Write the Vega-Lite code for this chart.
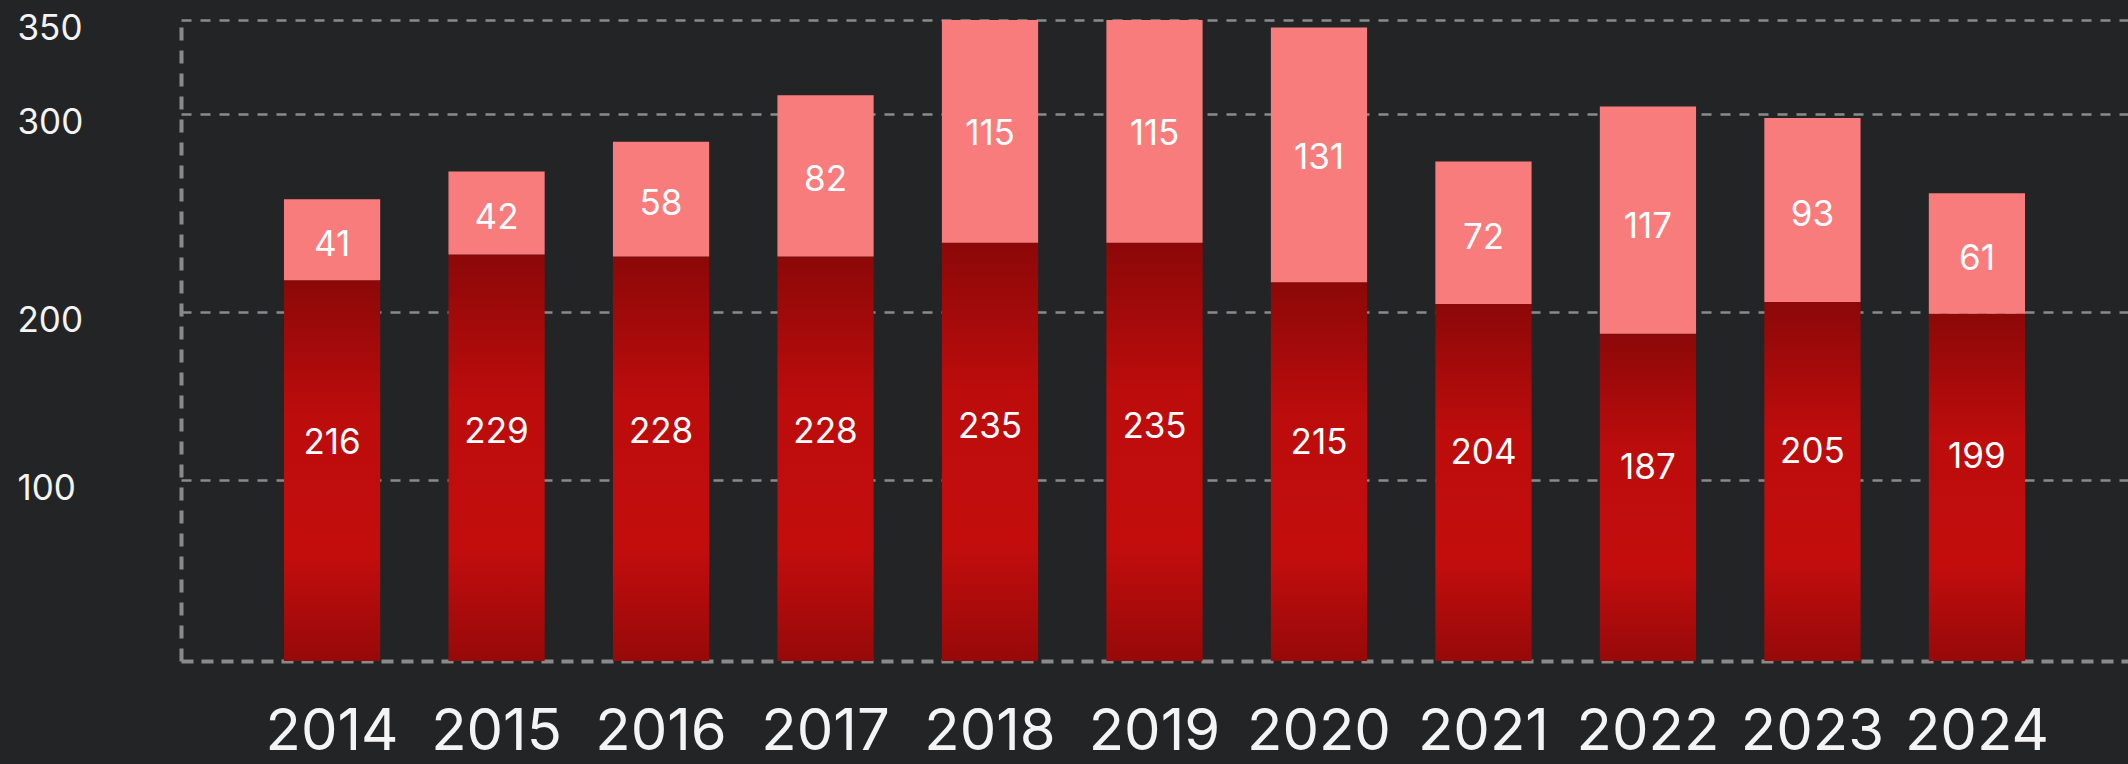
{
  "$schema": "https://vega.github.io/schema/vega-lite/v6.json",
  "autosize": {"type": "none"},
  "padding": {"left": 181, "top": 20, "right": 0, "bottom": 103},
  "width": 1947,
  "height": 641,
  "background": "#232426",
  "config": {
    "font": "Inter",
    "view": {"stroke": null},
    "axis": {"labelFont": "Inter", "labelColor": "#f4f4f4"}
  },
  "data": {
    "values": [
      {"year": "2014", "segment": "lower", "value": 216},
      {"year": "2014", "segment": "upper", "value": 41},
      {"year": "2015", "segment": "lower", "value": 229},
      {"year": "2015", "segment": "upper", "value": 42},
      {"year": "2016", "segment": "lower", "value": 228},
      {"year": "2016", "segment": "upper", "value": 58},
      {"year": "2017", "segment": "lower", "value": 228},
      {"year": "2017", "segment": "upper", "value": 82},
      {"year": "2018", "segment": "lower", "value": 235},
      {"year": "2018", "segment": "upper", "value": 115},
      {"year": "2019", "segment": "lower", "value": 235},
      {"year": "2019", "segment": "upper", "value": 115},
      {"year": "2020", "segment": "lower", "value": 215},
      {"year": "2020", "segment": "upper", "value": 131},
      {"year": "2021", "segment": "lower", "value": 204},
      {"year": "2021", "segment": "upper", "value": 72},
      {"year": "2022", "segment": "lower", "value": 187},
      {"year": "2022", "segment": "upper", "value": 117},
      {"year": "2023", "segment": "lower", "value": 205},
      {"year": "2023", "segment": "upper", "value": 93},
      {"year": "2024", "segment": "lower", "value": 199},
      {"year": "2024", "segment": "upper", "value": 61}
    ]
  },
  "encoding": {
    "x": {
      "field": "year",
      "type": "ordinal",
      "scale": {"paddingInner": 0.415, "paddingOuter": 0.626},
      "axis": {
        "title": null,
        "labelAngle": 0,
        "labelFontSize": 58,
        "labelBaseline": "middle",
        "labelPadding": 71,
        "ticks": false,
        "tickSize": 0,
        "domain": true,
        "domainColor": "#8a8a8a",
        "domainWidth": 4,
        "domainDash": [12, 8],
        "grid": false
      }
    },
    "y": {
      "field": "value",
      "type": "quantitative",
      "stack": "zero",
      "scale": {"domain": [0, 100, 200, 300, 350], "range": [641, 460, 292, 94, 0], "nice": false},
      "axis": {
        "title": null,
        "values": [100, 200, 300, 350],
        "labelFontSize": 35,
        "labelAlign": "left",
        "labelBaseline": "middle",
        "labelPadding": 164,
        "labelOffset": 8,
        "ticks": false,
        "tickSize": 0,
        "domain": true,
        "domainColor": "#8a8a8a",
        "domainWidth": 4,
        "domainDash": [13, 10],
        "grid": true,
        "gridColor": "#8a8a8a",
        "gridWidth": 2.5,
        "gridDash": [10, 9]
      }
    },
    "detail": {"field": "segment"},
    "order": {"field": "segment", "sort": "ascending"}
  },
  "layer": [
    {
      "mark": {"type": "bar", "strokeWidth": 0},
      "encoding": {
        "color": {
          "condition": {
            "test": "datum.segment === 'lower'",
            "value": {
              "gradient": "linear",
              "x1": 0, "y1": 0, "x2": 0, "y2": 1,
              "stops": [
                {"offset": 0, "color": "#8c0808"},
                {"offset": 0.35, "color": "#bc0c0c"},
                {"offset": 0.72, "color": "#c30d0d"},
                {"offset": 1, "color": "#970909"}
              ]
            }
          },
          "value": "#f97c7c"
        }
      }
    },
    {
      "mark": {"type": "text", "color": "#ffffff", "fontSize": 35, "dy": -24, "align": "center", "baseline": "middle"},
      "encoding": {
        "y": {"field": "value", "type": "quantitative", "stack": "zero", "bandPosition": 0.5},
        "text": {
          "condition": {"test": "datum.segment === 'lower'", "field": "value", "type": "quantitative"},
          "value": ""
        }
      }
    },
    {
      "mark": {"type": "text", "color": "#ffffff", "fontSize": 35, "dy": 5, "align": "center", "baseline": "middle"},
      "encoding": {
        "y": {"field": "value", "type": "quantitative", "stack": "zero", "bandPosition": 0.5},
        "text": {
          "condition": {"test": "datum.segment === 'upper'", "field": "value", "type": "quantitative"},
          "value": ""
        }
      }
    }
  ]
}
